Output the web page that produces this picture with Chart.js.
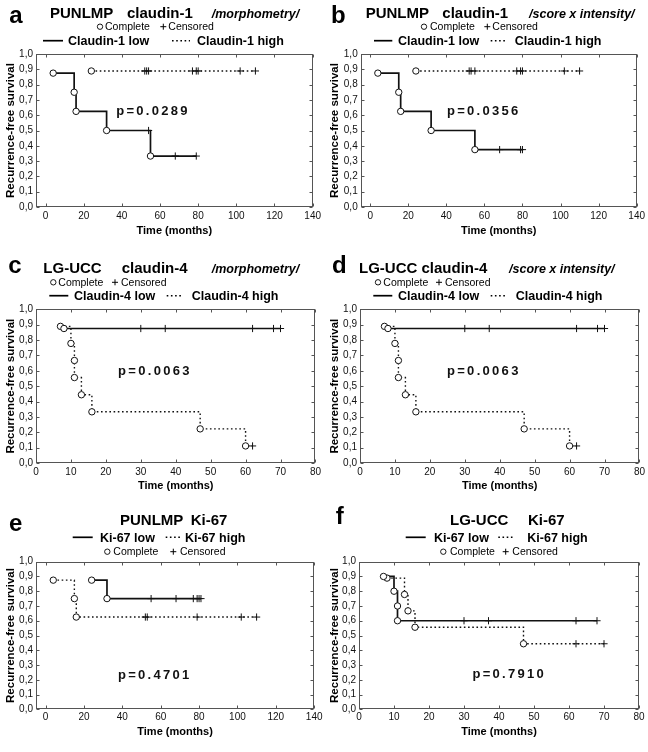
<!DOCTYPE html>
<html><head><meta charset="utf-8">
<script src="https://cdn.jsdelivr.net/npm/chart.js@4.4.1/dist/chart.umd.min.js"></script>
<style>html,body{margin:0;padding:0;background:#fff;width:648px;height:752px;overflow:hidden;position:relative}canvas{position:absolute}</style>
</head><body>
<script>
// ---------- tick values / labels ----------
const yTicks = [0, 0.1, 0.2, 0.3, 0.4, 0.5, 0.6, 0.7, 0.8, 0.9, 1.0];
const yTickLabels = ['0,0','0,1','0,2','0,3','0,4','0,5','0,6','0,7','0,8','0,9','1,0'];
const xTicksLong = [0, 20, 40, 60, 80, 100, 120, 140];
const xTickLabelsLong = ['0','20','40','60','80','100','120','140'];
const xTicksShort = [0, 10, 20, 30, 40, 50, 60, 70, 80];
const xTickLabelsShort = ['0','10','20','30','40','50','60','70','80'];

// ---------- series (event times, survival after event, censored times) ----------
// a: PUNLMP claudin-1 /morphometry/
const aLowEventT  = [4, 15, 16, 32, 55];
const aLowEventS  = [0.875, 0.75, 0.625, 0.5, 0.333];
const aLowCensT   = [54, 68, 79];
const aHighEventT = [24];
const aHighEventS = [0.889];
const aHighCensT  = [52, 53, 54, 77, 79, 80, 102, 110];
// b: PUNLMP claudin-1 /score x intensity/
const bLowEventT  = [4, 15, 16, 32, 55];
const bLowEventS  = [0.875, 0.75, 0.625, 0.5, 0.375];
const bLowCensT   = [68, 79, 80];
const bHighEventT = [24];
const bHighEventS = [0.889];
const bHighCensT  = [52, 53, 55, 77, 79, 80, 102, 110];
// c: LG-UCC claudin-4 /morphometry/
const cLowEventT  = [8];
const cLowEventS  = [0.875];
const cLowCensT   = [30, 37, 62, 68, 70];
const cHighEventT = [7, 10, 11, 11, 13, 16, 47, 60];
const cHighEventS = [0.889, 0.778, 0.667, 0.556, 0.444, 0.333, 0.222, 0.111];
const cHighCensT  = [62];
// d: LG-UCC claudin-4 /score x intensity/
const dLowEventT  = [8];
const dLowEventS  = [0.875];
const dLowCensT   = [30, 37, 62, 68, 70];
const dHighEventT = [7, 10, 11, 11, 13, 16, 47, 60];
const dHighEventS = [0.889, 0.778, 0.667, 0.556, 0.444, 0.333, 0.222, 0.111];
const dHighCensT  = [62];
// e: PUNLMP Ki-67
const eLowEventT  = [24, 32];
const eLowEventS  = [0.875, 0.75];
const eLowCensT   = [55, 68, 77, 79, 80, 81];
const eHighEventT = [4, 15, 16];
const eHighEventS = [0.875, 0.75, 0.625];
const eHighCensT  = [52, 53, 79, 102, 110];
// f: LG-UCC Ki-67
const fLowEventT  = [7, 10, 11, 11];
const fLowEventS  = [0.9, 0.8, 0.7, 0.6];
const fLowCensT   = [30, 37, 62, 68];
const fHighEventT = [8, 13, 14, 16, 47];
const fHighEventS = [0.889, 0.778, 0.667, 0.556, 0.444];
const fHighCensT  = [62, 70];

const pValues = ['p=0.0289', 'p=0.0356', 'p=0.0063', 'p=0.0063', 'p=0.4701', 'p=0.7910'];

// ---------- styling / layout ----------
const FF = "'Liberation Sans', Arial, Helvetica, sans-serif";
const fLabel = `bold 24px ${FF}`;
const fTitle = `bold 15px ${FF}`;
const fSub   = `italic bold 12.5px ${FF}`;
const fLeg   = `bold 12.5px ${FF}`;
const fSmall = `10.5px ${FF}`;

const panels = [
  { ox:0, oy:0, w:324, h:250, area:{l:36, t:54, r:314, b:207}, xH:30.6, xMin:-5, xMax:140, xt:xTicksLong, xl:xTickLabelsLong, tickPad:3,
    curves:[[aLowEventT,aLowEventS,aLowCensT,false],[aHighEventT,aHighEventS,aHighCensT,true]], p:pValues[0], pPos:[37,0.627],
    items:[['t','a',9.3,22.7,fLabel],['t','PUNLMP',50,18.3,fTitle],['t','claudin-1',127,18.3,fTitle],['t','/morphometry/',211.7,18,fSub],
      ['c',100,26.7],['t','Complete',105,30.3,fSmall],['+',163.3,26.7],['t','Censored',168.3,30.3,fSmall],
      ['l',43,63,40.7,false],['t','Claudin-1 low',68,45,fLeg],['l',172,190,40.7,true],['t','Claudin-1 high',197,45,fLeg]] },
  { ox:324, oy:0, w:324, h:250, area:{l:36.7, t:54, r:313.7, b:207}, xH:30.6, xMin:-5, xMax:140, xt:xTicksLong, xl:xTickLabelsLong, tickPad:3,
    curves:[[bLowEventT,bLowEventS,bLowCensT,false],[bHighEventT,bHighEventS,bHighCensT,true]], p:pValues[1], pPos:[40.3,0.623],
    items:[['t','b',331,23,fLabel],['t','PUNLMP',365.7,18.3,fTitle],['t','claudin-1',442.3,18.3,fTitle],['t','/score x intensity/',529,18,fSub],
      ['c',424,26.7],['t','Complete',430,30.3,fSmall],['+',487.3,26.7],['t','Censored',492.3,30.3,fSmall],
      ['l',374,392.3,40.7,false],['t','Claudin-1 low',398,45,fLeg],['l',490.7,506.7,40.7,true],['t','Claudin-1 high',514.7,45,fLeg]] },
  { ox:0, oy:250, w:324, h:250, area:{l:36, t:59.3, r:316, b:213}, xH:29.6, xMin:0, xMax:80, xt:xTicksShort, xl:xTickLabelsShort, tickPad:3,
    curves:[[cLowEventT,cLowEventS,cLowCensT,false],[cHighEventT,cHighEventS,cHighCensT,true]], p:pValues[2], pPos:[23.5,0.593],
    items:[['t','c',8.3,273.3,fLabel],['t','LG-UCC',43.3,273.3,fTitle],['t','claudin-4',121.7,273.3,fTitle],['t','/morphometry/',211.7,273,fSub],
      ['c',53.3,282.3],['t','Complete',58.3,285.7,fSmall],['+',115,282.3],['t','Censored',121,285.7,fSmall],
      ['l',49.3,68.3,295.7,false],['t','Claudin-4 low',74,300,fLeg],['l',166.7,183.3,295.7,true],['t','Claudin-4 high',191.7,300,fLeg]] },
  { ox:324, oy:250, w:324, h:250, area:{l:36, t:59.3, r:316, b:213}, xH:29.6, xMin:0, xMax:80, xt:xTicksShort, xl:xTickLabelsShort, tickPad:3,
    curves:[[dLowEventT,dLowEventS,dLowCensT,false],[dHighEventT,dHighEventS,dHighCensT,true]], p:pValues[3], pPos:[24.9,0.593],
    items:[['t','d',332,273,fLabel],['t','LG-UCC claudin-4',359,273.3,fTitle],['t','/score x intensity/',509,273,fSub],
      ['c',378,282.3],['t','Complete',383.3,285.7,fSmall],['+',439,282.3],['t','Censored',445,285.7,fSmall],
      ['l',373.3,392.3,295.7,false],['t','Claudin-4 low',398,300,fLeg],['l',490.7,507.3,295.7,true],['t','Claudin-4 high',515.7,300,fLeg]] },
  { ox:0, oy:500, w:324, h:252, area:{l:36, t:61.7, r:315, b:209.3}, xH:28.8, xMin:-5, xMax:140, xt:xTicksLong, xl:xTickLabelsLong, tickPad:1.5,
    curves:[[eLowEventT,eLowEventS,eLowCensT,false],[eHighEventT,eHighEventS,eHighCensT,true]], p:pValues[4], pPos:[37.7,0.232],
    items:[['t','e',9,530.7,fLabel],['t','PUNLMP',120,525,fTitle],['t','Ki-67',190.7,525,fTitle],
      ['l',72.7,92.7,537.3,false],['t','Ki-67 low',100,541.7,fLeg],['l',165.7,180,537.3,true],['t','Ki-67 high',185,541.7,fLeg],
      ['c',107.3,551.7],['t','Complete',113.3,555,fSmall],['+',173.3,551.7],['t','Censored',180,555,fSmall]] },
  { ox:324, oy:500, w:324, h:252, area:{l:35, t:61.7, r:315, b:209.3}, xH:28.8, xMin:0, xMax:80, xt:xTicksShort, xl:xTickLabelsShort, tickPad:1.5,
    curves:[[fLowEventT,fLowEventS,fLowCensT,false],[fHighEventT,fHighEventS,fHighCensT,true]], p:pValues[5], pPos:[32.4,0.237],
    items:[['t','f',335.7,524,fLabel],['t','LG-UCC',450,525,fTitle],['t','Ki-67',528,525,fTitle],
      ['l',405.7,425.7,537.3,false],['t','Ki-67 low',434,541.7,fLeg],['l',498.3,513.3,537.3,true],['t','Ki-67 high',527.3,541.7,fLeg],
      ['c',443.3,551.7],['t','Complete',450,555,fSmall],['+',505.7,551.7],['t','Censored',512.3,555,fSmall]] }
];

function levelAt(evT, evS, t) {
  let s = evS[0];
  for (let i = 0; i < evT.length; i++) if (evT[i] <= t) s = evS[i];
  return s;
}

function buildDatasets(curves) {
  const ds = [];
  curves.forEach(([evT, evS, cenT, dashed]) => {
    const line = evT.map((t, i) => ({x: t, y: evS[i]}));
    const lastC = cenT.length ? Math.max(...cenT) : -Infinity;
    if (lastC > evT[evT.length - 1]) line.push({x: lastC, y: levelAt(evT, evS, lastC)});
    ds.push({ data: line, showLine: true, stepped: 'before', borderColor: '#111', borderWidth: dashed ? 1.4 : 1.7,
      borderDash: dashed ? [1.6, 2.6] : [], pointRadius: 0, fill: false, order: 3 });
    ds.push({ data: cenT.map(t => ({x: t, y: levelAt(evT, evS, t)})), showLine: false, pointStyle: 'cross',
      pointRadius: 3.6, borderColor: '#111', pointBorderWidth: 1, order: 2 });
    ds.push({ data: evT.map((t, i) => ({x: t, y: evS[i]})), showLine: false, pointStyle: 'circle',
      pointRadius: 3.2, pointBackgroundColor: '#fff', pointBorderColor: '#111', pointBorderWidth: 1, order: 1 });
  });
  return ds;
}

const framePlugin = {
  id: 'frame',
  beforeDatasetsDraw(chart) {
    const {ctx, chartArea: {left, top, right, bottom}, scales: {x, y}} = chart;
    ctx.save();
    ctx.strokeStyle = '#555'; ctx.lineWidth = 1;
    const L = Math.round(left) + 0.5, R = Math.round(right) - 0.5, T = Math.round(top) + 0.5, B = Math.round(bottom) - 0.5;
    ctx.strokeRect(L, T, R - L, B - T);
    ctx.beginPath();
    x.ticks.forEach(t => { const px = Math.round(x.getPixelForValue(t.value)) + 0.5;
      ctx.moveTo(px, B); ctx.lineTo(px, B - 3); ctx.moveTo(px, T); ctx.lineTo(px, T + 3); });
    y.ticks.forEach(t => { const py = Math.round(y.getPixelForValue(t.value)) + 0.5;
      ctx.moveTo(L, py); ctx.lineTo(L + 3, py); ctx.moveTo(R, py); ctx.lineTo(R - 3, py); });
    ctx.stroke();
    ctx.restore();
  }
};

function makeAnnot(spec) {
  return {
    id: 'annot',
    afterDraw(chart) {
      const ctx = chart.ctx;
      ctx.save();
      ctx.fillStyle = '#000'; ctx.strokeStyle = '#000';
      ctx.textAlign = 'left'; ctx.textBaseline = 'alphabetic';
      spec.items.forEach(it => {
        if (it[0] === 't') {
          ctx.font = it[4]; ctx.fillText(it[1], it[2] - spec.ox, it[3] - spec.oy);
        } else if (it[0] === 'c') {
          ctx.beginPath(); ctx.lineWidth = 0.9; ctx.fillStyle = '#fff';
          ctx.arc(it[1] - spec.ox, it[2] - spec.oy, 2.7, 0, Math.PI * 2); ctx.fill(); ctx.stroke(); ctx.fillStyle = '#000';
        } else if (it[0] === '+') {
          const cx = it[1] - spec.ox, cy = it[2] - spec.oy;
          ctx.beginPath(); ctx.lineWidth = 1;
          ctx.moveTo(cx - 3, cy); ctx.lineTo(cx + 3, cy); ctx.moveTo(cx, cy - 3); ctx.lineTo(cx, cy + 3); ctx.stroke();
        } else if (it[0] === 'l') {
          ctx.beginPath(); ctx.lineWidth = it[4] ? 1.4 : 1.7; ctx.setLineDash(it[4] ? [1.6, 2.6] : []);
          ctx.moveTo(it[1] - spec.ox, it[3] - spec.oy); ctx.lineTo(it[2] - spec.ox, it[3] - spec.oy); ctx.stroke();
          ctx.setLineDash([]);
        }
      });
      // p-value, placed through the chart scales
      const {x, y} = chart.scales;
      let px = x.getPixelForValue(spec.pPos[0]);
      const py = y.getPixelForValue(spec.pPos[1]);
      ctx.font = `bold 13px ${FF}`; ctx.textBaseline = 'middle'; ctx.fillStyle = '#111';
      for (const ch of spec.p) { ctx.fillText(ch, px, py); px += ctx.measureText(ch).width + 2.3; }
      ctx.restore();
    }
  };
}

panels.forEach(spec => {
  const cv = document.createElement('canvas');
  cv.width = spec.w; cv.height = spec.h;
  cv.style.left = spec.ox + 'px'; cv.style.top = spec.oy + 'px';
  cv.style.width = spec.w + 'px'; cv.style.height = spec.h + 'px';
  document.body.appendChild(cv);
  const a = spec.area;
  new Chart(cv, {
    type: 'scatter',
    data: { datasets: buildDatasets(spec.curves) },
    options: {
      responsive: false, animation: false, devicePixelRatio: 1, events: [],
      layout: { padding: { left: 0, top: a.t, right: spec.w - a.r, bottom: spec.h - a.b - spec.xH } },
      plugins: { legend: { display: false }, tooltip: { enabled: false }, title: { display: false } },
      scales: {
        x: {
          type: 'linear', min: spec.xMin, max: spec.xMax,
          afterBuildTicks: s => { s.ticks = spec.xt.map(v => ({value: v})); },
          afterFit: s => { s.height = spec.xH; },
          grid: { display: false, drawTicks: false }, border: { display: false },
          ticks: { padding: spec.tickPad, autoSkip: false, maxRotation: 0, color: '#111',
            font: { family: FF, size: 10 }, callback: (v, i) => spec.xl[i] },
          title: { display: true, text: 'Time (months)', color: '#000', font: { family: FF, size: 11, weight: 'bold' }, padding: { top: 0, bottom: 0 } }
        },
        y: {
          type: 'linear', min: 0, max: 1,
          afterBuildTicks: s => { s.ticks = yTicks.map(v => ({value: v})); },
          afterFit: s => { s.width = a.l; },
          grid: { display: false, drawTicks: false }, border: { display: false },
          ticks: { padding: 3, autoSkip: false, color: '#111', font: { family: FF, size: 10 }, callback: (v, i) => yTickLabels[i] },
          title: { display: true, text: 'Recurrence-free survival', color: '#000', font: { family: FF, size: 11.5, weight: 'bold' }, padding: { top: 3.5, bottom: 0 } }
        }
      }
    },
    plugins: [framePlugin, makeAnnot(spec)]
  });
});
</script>
</body></html>
